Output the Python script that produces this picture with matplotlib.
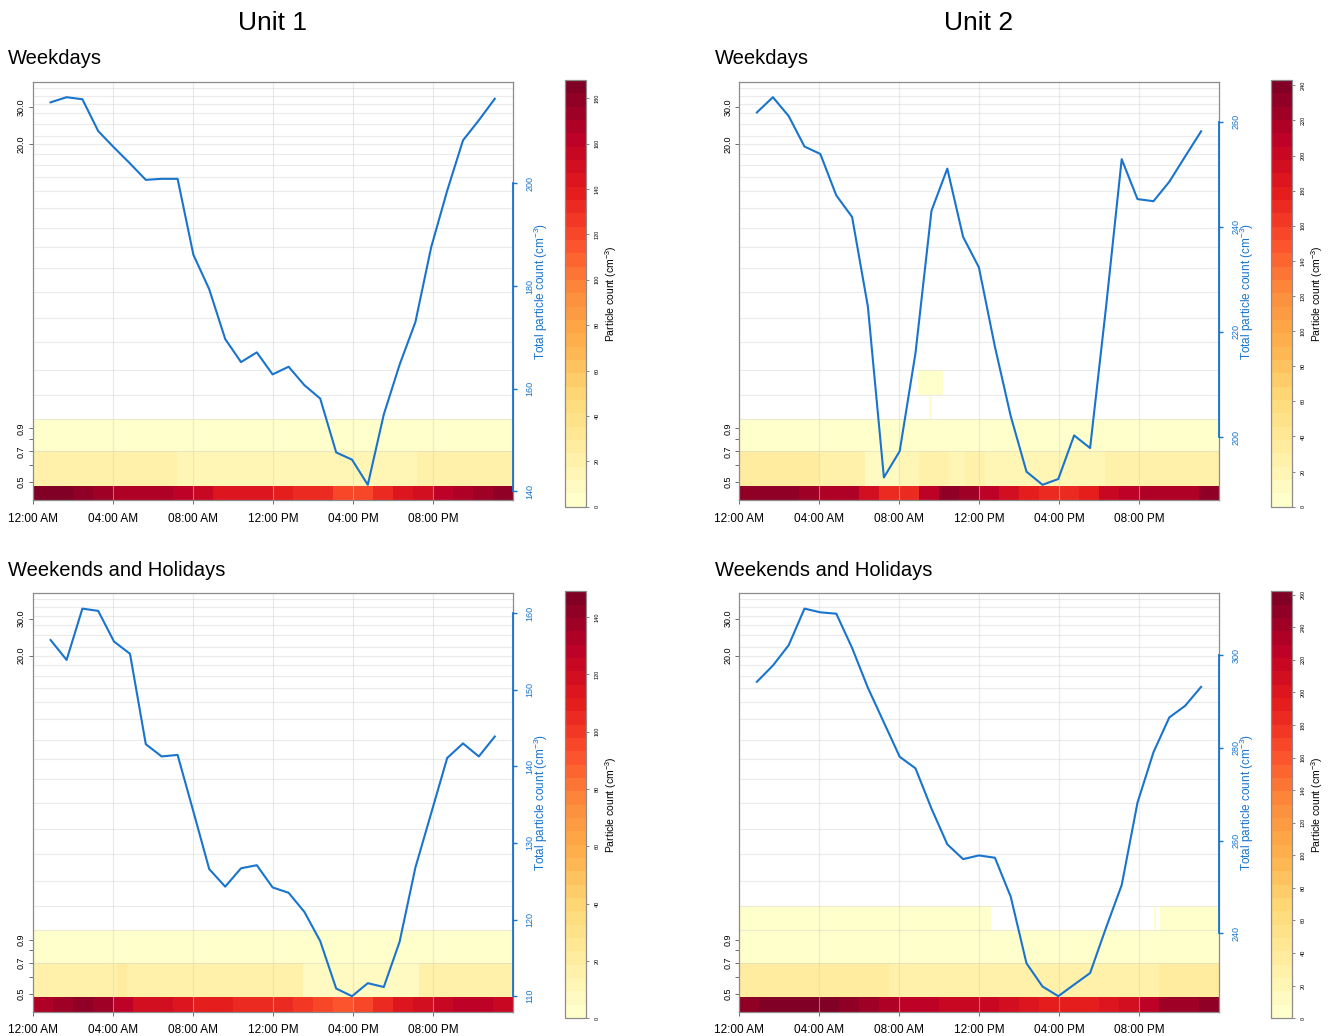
import numpy as np
import matplotlib
matplotlib.use("Agg")
import matplotlib.pyplot as plt
from matplotlib.colors import Normalize
from matplotlib.cm import ScalarMappable
from matplotlib.ticker import NullLocator

plt.rcParams['font.family'] = ['Liberation Sans', 'DejaVu Sans']
plt.rcParams['mathtext.fontset'] = 'custom'
plt.rcParams['mathtext.rm'] = 'Liberation Sans'
plt.rcParams['mathtext.it'] = 'Liberation Sans:italic'
plt.rcParams['mathtext.default'] = 'regular'

W, H = 1333, 1036
BLUE = '#1874CD'
FRAME = '#8c8c8c'

#*********data************
# hour of day for the total-count line
hours = [0.88, 1.68, 2.47, 3.26, 4.05, 4.85, 5.64, 6.43, 7.23, 8.02, 8.81, 9.61,
         10.40, 11.19, 11.98, 12.78, 13.57, 14.36, 15.16, 15.95, 16.74, 17.54,
         18.33, 19.12, 19.91, 20.71, 21.50, 22.29, 23.09]

# particle size bin edges (um)
size_edges = [0.41, 0.48, 0.7, 1.0, 1.3, 1.7, 2.3, 3.0, 4.0, 5.2, 6.5, 8.0, 10, 12,
              14, 16, 18, 20, 22, 25, 28, 31, 34, 37, 39.6]
hour_edges = list(range(25))

time_ticks = [0, 4, 8, 12, 16, 20]
time_labels = ['12:00 AM', '04:00 AM', '08:00 AM', '12:00 PM', '04:00 PM', '08:00 PM']
size_ticks = [0.5, 0.6, 0.7, 0.8, 0.9, 20, 30]
size_labels = ['0.5', '', '0.7', '', '0.9', '20.0', '30.0']

# total particle count (cm-3)
total_u1_wd = [215.8, 216.8, 216.4, 210.2, 207.0, 203.9, 200.7, 200.9, 200.9, 186.1,
               179.4, 169.7, 165.2, 167.1, 162.8, 164.3, 160.7, 158.1, 147.6, 146.2,
               141.3, 155.0, 164.7, 173.0, 187.6, 198.6, 208.4, 212.3, 216.5]
total_u2_wd = [261.8, 264.7, 261.1, 255.3, 253.9, 246.0, 241.9, 224.8, 192.3, 197.3,
               216.0, 243.1, 251.1, 238.1, 232.3, 217.2, 204.0, 193.4, 190.9, 192.0,
               200.3, 197.9, 224.5, 252.9, 245.3, 244.9, 248.6, 253.4, 258.2]
total_u1_we = [156.5, 153.9, 160.6, 160.3, 156.3, 154.7, 142.9, 141.3, 141.5, 134.1,
               126.6, 124.3, 126.7, 127.1, 124.2, 123.5, 121.0, 117.2, 111.0, 110.0,
               111.7, 111.2, 117.1, 126.8, 133.9, 141.1, 143.0, 141.3, 143.9]
total_u2_we = [294.3, 297.8, 302.2, 310.1, 309.3, 309.0, 301.6, 293.0, 285.5, 278.1,
               275.6, 266.9, 259.2, 256.0, 256.8, 256.3, 247.9, 233.5, 228.5, 226.4,
               228.9, 231.4, 241.1, 250.4, 268.2, 279.1, 286.6, 289.1, 293.2]

# particle count per size bin: (bin index, hour edges, values)
nan = np.nan
heat_u1_wd = [
    (0, hour_edges, [184, 183, 178, 172, 170, 170, 169, 164, 153, 146, 141, 141,
                     139, 135, 130, 122, 120, 130, 141, 150, 160, 168, 175, 182]),
    (1, [0, 7.2, 19.2, 24], [23, 15, 22]),
    (2, [0, 24], [3]),
]
heat_u2_wd = [
    (0, hour_edges, [234, 232, 228, 225, 215, 213, 190, 170, 172, 209, 231, 221,
                     207, 192, 175, 168, 173, 175, 202, 207, 216, 218, 219, 233]),
    (1, [0, 4, 6.3, 8, 9, 10.5, 11.3, 12.3, 18.3, 24], [31, 24, 10, 17, 30, 17, 28, 16, 30]),
    (2, [0, 24], [3]),
    (3, [0, 9.5, 9.65, 24], [nan, 2, nan]),
    (4, [0, 8.93, 10.18, 24], [nan, 3, nan]),
]
heat_u1_we = [
    (0, hour_edges, [134, 136, 143, 137, 128, 121, 118, 116, 110, 108, 104, 104,
                     103, 101, 97, 93, 96, 103, 112, 120, 124, 127, 128, 125]),
    (1, [0, 1.7, 4.2, 4.7, 13.5, 19.3, 24], [15, 18, 22, 15, 7, 14]),
    (2, [0, 24], [3]),
]
heat_u2_we = [
    (0, hour_edges, [252, 260, 260, 261, 256, 248, 239, 232, 224, 222, 217, 217,
                     214, 205, 198, 195, 193, 190, 200, 212, 224, 238, 241, 250]),
    (1, [0, 7.5, 8, 21, 24], [39, 26, 29, 40]),
    (2, [0, 24], [4]),
    (3, [0, 12.58, 20.75, 20.85, 21.05, 24], [2, nan, 2, nan, 2]),
]

cmax = [188, 243, 149, 262]
cbar_ticks = [list(range(0, 181, 20)), list(range(0, 241, 20)),
              list(range(0, 141, 20)), list(range(0, 261, 20))]
right_ticks = [[140, 160, 180, 200], [200, 220, 240, 260],
               [110, 120, 130, 140, 150, 160], [240, 260, 280, 300]]

cmap = plt.get_cmap('YlOrRd', 32)

fig = plt.figure(figsize=(W / 100, H / 100), dpi=100)
fig.patch.set_facecolor('white')


def panel(x0, y0, total, heat, vmax, rticks, cticks, cbx):
    ph = 418.6
    ax = fig.add_axes([x0 / W, 1 - (y0 + ph) / H, 480 / W, ph / H])
    norm = Normalize(0, vmax)
    for b, xe, vals in heat:
        ax.pcolormesh(xe, size_edges[b:b + 2], np.array([vals], float),
                      cmap=cmap, norm=norm, shading='flat', zorder=1)
    ax.set_yscale('log')
    ax.set_xlim(0, 24)
    ax.set_ylim(size_edges[0], size_edges[-1])
    for e in size_edges[2:-1]:
        ax.axhline(e, color='#d4d4d4', lw=0.8, alpha=0.45, zorder=2)
    for t in time_ticks[1:]:
        ax.axvline(t, color='#d4d4d4', lw=0.8, alpha=0.5, zorder=2)
    ax.set_xticks(time_ticks, time_labels)
    ax.set_yticks(size_ticks, size_labels)
    ax.yaxis.set_minor_locator(NullLocator())
    ax.tick_params(axis='x', length=3, width=0.6, color='#555555', labelsize=8.5, pad=6)
    ax.tick_params(axis='y', length=3, width=0.6, color='#555555', labelsize=6.5, pad=2)
    plt.setp(ax.get_yticklabels(), rotation=90, va='center')
    for s in ax.spines.values():
        s.set_color(FRAME)
        s.set_linewidth(0.9)

    #------ total particle count on the right axis ------
    ax2 = ax.twinx()
    ax2.plot(hours, total, color=BLUE, lw=1.5)
    lo, hi = min(total), max(total)
    ax2.set_ylim(lo - 0.04 * (hi - lo), hi + 0.04 * (hi - lo))
    ax2.set_yticks(rticks)
    ax2.tick_params(axis='y', length=3, width=1.0, color=BLUE, labelcolor=BLUE,
                    labelsize=6.5, pad=6)
    plt.setp(ax2.get_yticklabels(), rotation=90, va='center')
    for k in ['top', 'left', 'bottom']:
        ax2.spines[k].set_visible(False)
    ax2.spines['right'].set_color(BLUE)
    ax2.spines['right'].set_linewidth(1.3)
    ax2.spines['right'].set_bounds(rticks[0], rticks[-1])
    ax2.text(1 + 28 / 480, 0.5, 'Total particle count (cm$^{-3}$)', transform=ax2.transAxes,
             rotation=90, ha='center', va='center', color=BLUE, fontsize=8.5)

    #------ colour bar ------
    cax = fig.add_axes([cbx / W, 1 - (y0 - 1.7 + 426.7) / H, 21 / W, 426.7 / H])
    cb = fig.colorbar(ScalarMappable(norm=norm, cmap=cmap), cax=cax)
    cb.set_ticks(cticks)
    cb.ax.tick_params(length=2.5, width=0.5, color='#555555', labelsize=4, pad=4)
    plt.setp(cb.ax.get_yticklabels(), rotation=90, va='center')
    cb.outline.set_edgecolor(FRAME)
    cb.outline.set_linewidth(0.9)
    cax.text(2.2, 0.5, 'Particle count (cm$^{-3}$)', transform=cax.transAxes,
             rotation=90, ha='center', va='center', fontsize=7.5)
    return ax


panel(33, 81.7, total_u1_wd, heat_u1_wd, cmax[0], right_ticks[0], cbar_ticks[0], 564.5)
panel(739.3, 81.7, total_u2_wd, heat_u2_wd, cmax[1], right_ticks[1], cbar_ticks[1], 1270.5)
panel(33, 593.1, total_u1_we, heat_u1_we, cmax[2], right_ticks[2], cbar_ticks[2], 564.5)
panel(739.3, 593.1, total_u2_we, heat_u2_we, cmax[3], right_ticks[3], cbar_ticks[3], 1270.5)

fig.text(273 / W, 1 - 23 / H, 'Unit 1', ha='center', va='center', fontsize=19)
fig.text(979 / W, 1 - 23 / H, 'Unit 2', ha='center', va='center', fontsize=19)
for xl in [8, 715]:
    fig.text(xl / W, 1 - 58.5 / H, 'Weekdays', ha='left', va='center', fontsize=14.5)
    fig.text(xl / W, 1 - 570.5 / H, 'Weekends and Holidays', ha='left', va='center', fontsize=14.5)

fig.savefig('out.png', dpi=100)
